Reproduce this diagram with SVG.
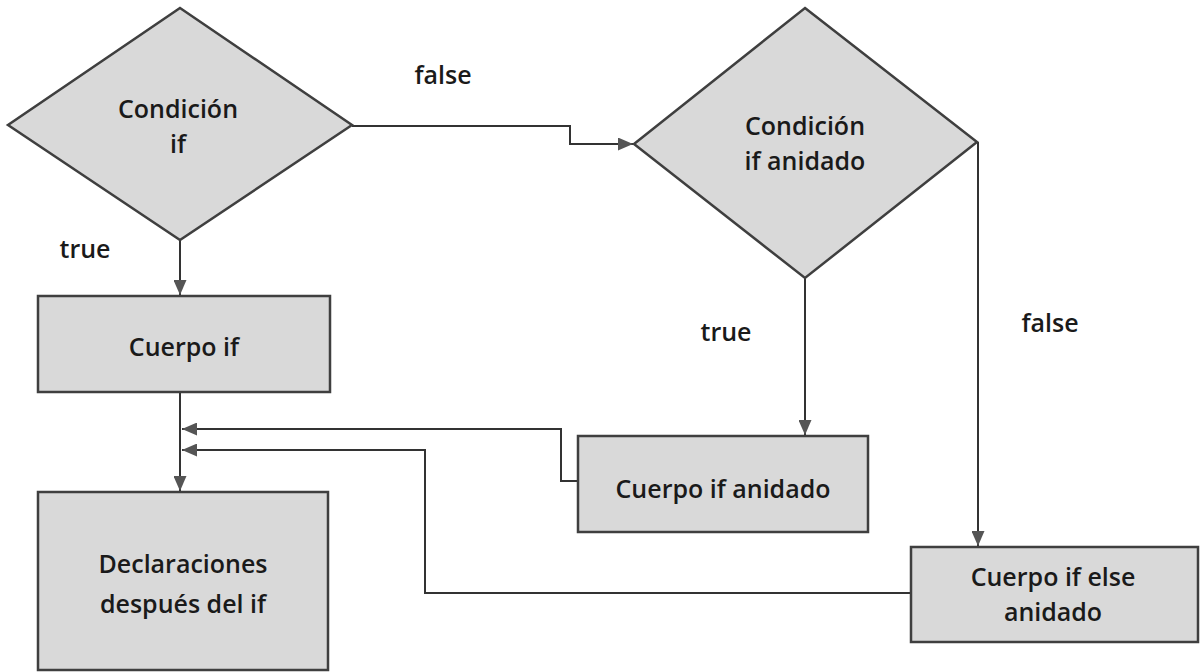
<svg xmlns="http://www.w3.org/2000/svg" width="1200" height="672" viewBox="0 0 1200 672">
<style>
.shape{fill:#d9d9d9;stroke:#3f3f3f;stroke-width:2.5}
.t{font-family:"Open Sans","Noto Sans",sans-serif;font-size:25px;font-weight:600;fill:#1a1a1a;text-anchor:middle}
.lbl{font-family:"Open Sans","Noto Sans",sans-serif;font-size:25px;font-weight:600;fill:#1a1a1a;text-anchor:middle}
.c{fill:none;stroke:#333;stroke-width:2}
</style>
<defs>
<marker id="ah" viewBox="0 0 10 10" refX="10" refY="5" markerWidth="15" markerHeight="13" markerUnits="userSpaceOnUse" orient="auto" preserveAspectRatio="none">
<path d="M0,0 L10,5 L0,10 z" fill="#555"/>
</marker>
</defs>
<rect width="1200" height="672" fill="#fff"/>
<g id="connectors">
<path class="c" d="M180,240 V295" marker-end="url(#ah)"/>
<path class="c" d="M180,392 V491" marker-end="url(#ah)"/>
<path class="c" d="M352,126 H570 V144 H633" marker-end="url(#ah)"/>
<path class="c" d="M805,278 V435" marker-end="url(#ah)"/>
<path class="c" d="M978,142 V546" marker-end="url(#ah)"/>
<path class="c" d="M578,481 H561 V429 H182" marker-end="url(#ah)"/>
<path class="c" d="M911,593 H425 V450 H182" marker-end="url(#ah)"/>
</g>
<g id="cond-if">
<polygon class="shape" points="180,8 352,125 180,240 8,125"/>
<text class="t" x="178" y="118">Condición</text>
<text class="t" x="178" y="153">if</text>
</g>
<g id="cuerpo-if">
<rect class="shape" x="38" y="296" width="292" height="96"/>
<text class="t" x="184" y="356">Cuerpo if</text>
</g>
<g id="declaraciones">
<rect class="shape" x="38" y="492" width="290" height="178"/>
<text class="t" x="183" y="573">Declaraciones</text>
<text class="t" x="183" y="613">después del if</text>
</g>
<g id="cond-anidado">
<polygon class="shape" points="805,8 977,142 805,278 634,144"/>
<text class="t" x="805" y="135">Condición</text>
<text class="t" x="805" y="170">if anidado</text>
</g>
<g id="cuerpo-anidado">
<rect class="shape" x="578" y="436" width="290" height="96"/>
<text class="t" x="723" y="498">Cuerpo if anidado</text>
</g>
<g id="cuerpo-else">
<rect class="shape" x="911" y="547" width="287" height="95"/>
<text class="t" x="1053" y="586">Cuerpo if else</text>
<text class="t" x="1053" y="621">anidado</text>
</g>
<g id="labels">
<text class="lbl" x="443" y="84">false</text>
<text class="lbl" x="85" y="258">true</text>
<text class="lbl" x="726" y="341">true</text>
<text class="lbl" x="1050" y="332">false</text>
</g>
</svg>
